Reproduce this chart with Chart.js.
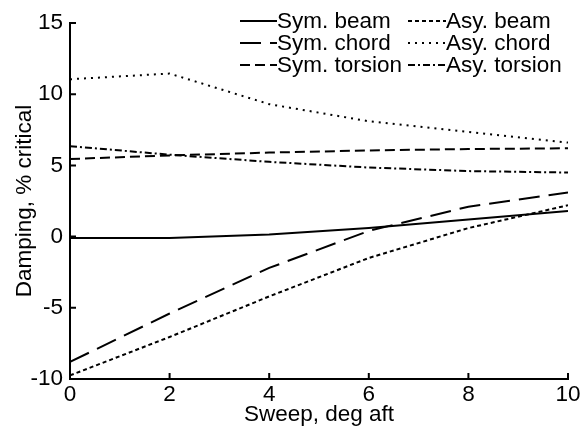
<!DOCTYPE html>
<html>
<head>
<meta charset="utf-8">
<script src="https://cdn.jsdelivr.net/npm/chart.js@4.4.1/dist/chart.umd.min.js"></script>
<style>
  html, body { margin: 0; padding: 0; background: #ffffff; }
  #wrap { width: 584px; height: 437px; position: relative; }
</style>
</head>
<body>
<div id="wrap"><canvas id="c"></canvas></div>
<script>
// ---- data ----
const sweep = [0, 2, 4, 6, 8, 10];
const symBeam    = [-0.1, -0.1, 0.15, 0.6, 1.2, 1.8];
const symChord   = [-8.8, -5.4, -2.2, 0.4, 2.1, 3.1];
const symTorsion = [5.45, 5.7, 5.9, 6.05, 6.15, 6.2];
const asyBeam    = [-9.75, -7.05, -4.2, -1.5, 0.6, 2.2];
const asyChord   = [11.05, 11.45, 9.3, 8.1, 7.35, 6.6];
const asyTorsion = [6.35, 5.75, 5.25, 4.85, 4.6, 4.5];

const seriesNames = ['Sym. beam', 'Sym. chord', 'Sym. torsion', 'Asy. beam', 'Asy. chord', 'Asy. torsion'];
const xTickValues = [0, 2, 4, 6, 8, 10];
const yTickValues = [-10, -5, 0, 5, 10, 15];
const xTitle = 'Sweep, deg aft';
const yTitle = 'Damping, % critical';

const FONT = '"Liberation Sans", Arial, Helvetica, sans-serif';
const FS = 22.5;

const seriesValues = [symBeam, symChord, symTorsion, asyBeam, asyChord, asyTorsion];
const dashes = [[], [21, 9], [10, 5], [4, 3], [2, 5], [7, 3, 2, 3]];

const datasets = seriesNames.map((name, k) => ({
  label: name,
  data: sweep.map((x, i) => ({ x: x, y: seriesValues[k][i] })),
  borderColor: '#000000',
  borderWidth: 2,
  borderDash: dashes[k],
  pointRadius: 0,
  tension: 0,
  fill: false
}));

// inward tick marks, drawn via the library's scales
const inwardTicks = {
  id: 'inwardTicks',
  afterDraw(chart) {
    const ctx = chart.ctx;
    const xs = chart.scales.x, ys = chart.scales.y;
    const area = chart.chartArea;
    ctx.save();
    ctx.strokeStyle = '#000';
    ctx.lineWidth = 2;
    ctx.beginPath();
    xs.ticks.forEach(t => {
      const px = xs.getPixelForValue(t.value);
      ctx.moveTo(px, area.bottom);
      ctx.lineTo(px, area.bottom - 6);
    });
    ys.ticks.forEach(t => {
      const py = ys.getPixelForValue(t.value);
      ctx.moveTo(area.left, py);
      ctx.lineTo(area.left + 6, py);
    });
    ctx.stroke();
    ctx.restore();
  }
};

// two-column legend in the top-right of the plot
const legendBox = {
  id: 'legendBox',
  afterDraw(chart) {
    const ctx = chart.ctx;
    const cols = [{ lx: 240, tx: 277 }, { lx: 408, tx: 446 }];
    const rows = [21, 43, 65];
    ctx.save();
    ctx.font = FS + 'px ' + FONT;
    ctx.textBaseline = 'middle';
    ctx.textAlign = 'left';
    chart.data.datasets.forEach((ds, k) => {
      const col = cols[Math.floor(k / 3)];
      const y = rows[k % 3];
      ctx.strokeStyle = '#000';
      ctx.lineWidth = 2;
      ctx.setLineDash(ds.borderDash || []);
      ctx.beginPath();
      ctx.moveTo(col.lx, y);
      ctx.lineTo(col.tx, y);
      ctx.stroke();
      ctx.setLineDash([]);
      ctx.fillStyle = '#000';
      ctx.fillText(ds.label, col.tx, y + 1);
    });
    ctx.restore();
  }
};

new Chart(document.getElementById('c'), {
  type: 'line',
  data: { datasets: datasets },
  options: {
    responsive: true,
    maintainAspectRatio: false,
    animation: false,
    events: [],
    layout: { padding: { top: 23, right: 16, left: 0, bottom: 0 } },
    plugins: { legend: { display: false }, tooltip: { enabled: false } },
    scales: {
      x: {
        type: 'linear',
        min: 0, max: 10,
        afterBuildTicks: s => { s.ticks = xTickValues.map(v => ({ value: v })); },
        afterFit: s => { s.height = 58; },
        grid: { display: true, drawOnChartArea: false, drawTicks: false },
        border: { display: true, color: '#000', width: 2 },
        ticks: { color: '#000', padding: 2, maxRotation: 0, font: { family: FONT, size: FS } },
        title: { display: true, text: xTitle, color: '#000', padding: { top: 0, bottom: 9 }, font: { family: FONT, size: FS } }
      },
      y: {
        type: 'linear',
        min: -10, max: 15,
        afterBuildTicks: s => { s.ticks = yTickValues.map(v => ({ value: v })); },
        afterFit: s => { s.width = 70; },
        grid: { display: true, drawOnChartArea: false, drawTicks: false },
        border: { display: true, color: '#000', width: 2 },
        ticks: { color: '#000', padding: 7, font: { family: FONT, size: FS } },
        title: { display: true, text: yTitle, color: '#000', padding: { top: 11, bottom: 0 }, font: { family: FONT, size: FS } }
      }
    }
  },
  plugins: [inwardTicks, legendBox]
});
</script>
</body>
</html>
